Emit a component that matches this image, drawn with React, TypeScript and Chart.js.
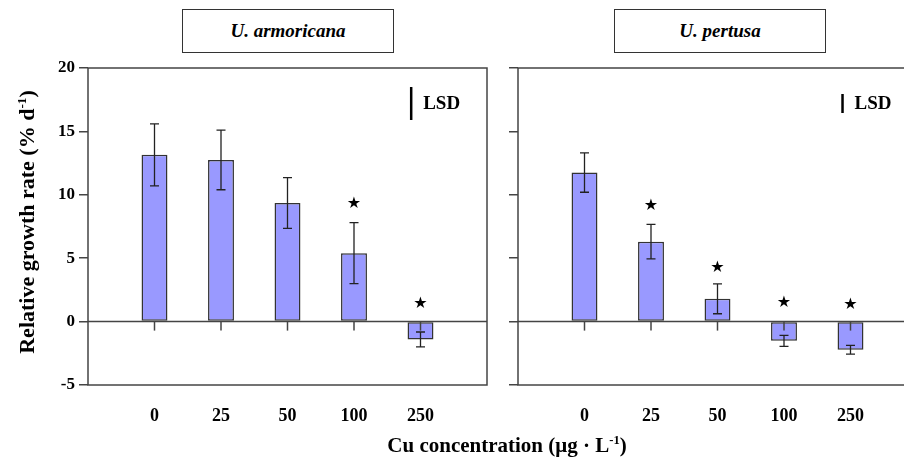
import React, { useEffect, useRef } from 'react';
import { Chart, registerables } from 'chart.js';

Chart.register(...registerables);

// ---- data ----
const categories = ['0', '25', '50', '100', '250'];
const armoricanaMeans = [13.15, 12.75, 9.35, 5.4, -1.41];
const armoricanaErrors = [2.45, 2.35, 2.0, 2.4, 0.59];
const armoricanaStars: (number | null)[] = [null, null, null, 9.3, 1.4];
const pertusaMeans = [11.75, 6.3, 1.8, -1.52, -2.22];
const pertusaErrors = [1.55, 1.36, 1.18, 0.44, 0.35];
const pertusaStars: (number | null)[] = [null, 9.1, 4.25, 1.5, 1.35];
const yMin = -5;
const yMax = 20;
const yStep = 5;
// LSD bar: [category position, centre value, length]
const armoricanaLSD = [4.86, 17.2, 2.6];
const pertusaLSD = [4.88, 17.2, 1.5];

const SERIF = '"Liberation Serif", "Times New Roman", serif';
const LINE = '#444';

function makeChart(
  canvas: HTMLCanvasElement,
  means: number[],
  errors: number[],
  stars: (number | null)[],
  lsd: number[],
  yWidth: number,
  rightPad: number,
  showYLabels: boolean
) {
  const labels = ['', ...categories, ''];
  const values = [null, ...means, null];

  const overlay = {
    id: 'overlay',
    afterDatasetsDraw(chart: any) {
      const { ctx, chartArea } = chart;
      const xs = chart.scales.x;
      const ys = chart.scales.y;
      ctx.save();
      // frame
      ctx.strokeStyle = LINE;
      ctx.lineWidth = 1.5;
      ctx.strokeRect(chartArea.left, chartArea.top, chartArea.right - chartArea.left, chartArea.bottom - chartArea.top);
      // zero line
      const y0 = ys.getPixelForValue(0);
      ctx.beginPath();
      ctx.moveTo(chartArea.left, y0);
      ctx.lineTo(chartArea.right, y0);
      ctx.stroke();
      // x tick marks at zero line
      for (let i = 0; i < categories.length; i++) {
        const x = xs.getPixelForValue(i + 1);
        ctx.beginPath();
        ctx.moveTo(x, y0);
        ctx.lineTo(x, y0 + 9);
        ctx.stroke();
      }
      // error bars
      ctx.strokeStyle = '#222';
      ctx.lineWidth = 1.3;
      for (let i = 0; i < means.length; i++) {
        const x = xs.getPixelForValue(i + 1);
        const yt = ys.getPixelForValue(means[i] + errors[i]);
        const yb = ys.getPixelForValue(means[i] - errors[i]);
        ctx.beginPath();
        ctx.moveTo(x, yt);
        ctx.lineTo(x, yb);
        ctx.moveTo(x - 4.5, yt);
        ctx.lineTo(x + 4.5, yt);
        ctx.moveTo(x - 4.5, yb);
        ctx.lineTo(x + 4.5, yb);
        ctx.stroke();
      }
      // stars
      ctx.fillStyle = '#000';
      ctx.font = '16px "DejaVu Sans", sans-serif';
      ctx.textAlign = 'center';
      ctx.textBaseline = 'middle';
      for (let i = 0; i < stars.length; i++) {
        const s = stars[i];
        if (s === null) continue;
        ctx.fillText('★', xs.getPixelForValue(i + 1), ys.getPixelForValue(s));
      }
      // LSD
      const lx = xs.getPixelForValue(lsd[0]);
      const lt = ys.getPixelForValue(lsd[1] + lsd[2] / 2);
      const lb = ys.getPixelForValue(lsd[1] - lsd[2] / 2);
      ctx.strokeStyle = '#000';
      ctx.lineWidth = 2.5;
      ctx.beginPath();
      ctx.moveTo(lx, lt);
      ctx.lineTo(lx, lb);
      ctx.stroke();
      ctx.font = `bold 19px ${SERIF}`;
      ctx.textAlign = 'left';
      ctx.textBaseline = 'middle';
      ctx.fillText('LSD', lx + 12, ys.getPixelForValue(lsd[1]) + 1);
      ctx.restore();
    },
  };

  return new Chart(canvas, {
    type: 'bar',
    data: {
      labels,
      datasets: [
        {
          data: values as any,
          backgroundColor: '#9999ff',
          borderColor: '#333',
          borderWidth: 1.5,
          borderSkipped: false,
          barPercentage: 0.39,
          categoryPercentage: 1,
        },
      ],
    },
    options: {
      animation: false,
      responsive: false,
      maintainAspectRatio: false,
      layout: { padding: { top: 68, right: rightPad, bottom: 38, left: 0 } },
      plugins: {
        legend: { display: false },
        tooltip: { enabled: false },
        title: { display: false },
      },
      scales: {
        x: {
          offset: false,
          grid: { display: false, drawTicks: false },
          border: { display: false },
          ticks: {
            padding: 21,
            autoSkip: false,
            maxRotation: 0,
            color: '#000',
            font: { family: SERIF, weight: 'bold', size: 18 },
          },
          afterFit: (s: any) => {
            s.height = 40;
            s.paddingLeft = 0;
            s.paddingRight = 0;
          },
        },
        y: {
          min: yMin,
          max: yMax,
          ticks: {
            stepSize: yStep,
            padding: 4,
            color: showYLabels ? '#000' : 'rgba(0,0,0,0)',
            font: { family: SERIF, weight: 'bold', size: 17 },
          },
          grid: { drawOnChartArea: false, drawTicks: true, tickLength: 9, color: LINE, lineWidth: 1.5 },
          border: { display: false },
          afterFit: (s: any) => {
            s.width = yWidth;
          },
        },
      },
    } as any,
    plugins: [overlay],
  });
}

export default function App() {
  const leftRef = useRef<HTMLCanvasElement>(null);
  const rightRef = useRef<HTMLCanvasElement>(null);

  useEffect(() => {
    const c1 = makeChart(leftRef.current!, armoricanaMeans, armoricanaErrors, armoricanaStars, armoricanaLSD, 88, 13, true);
    const c2 = makeChart(rightRef.current!, pertusaMeans, pertusaErrors, pertusaStars, pertusaLSD, 18, 3, false);
    return () => {
      c1.destroy();
      c2.destroy();
    };
  }, []);

  const boxStyle: React.CSSProperties = {
    position: 'absolute',
    top: 9,
    width: 212,
    height: 44,
    boxSizing: 'border-box',
    border: '1.5px solid #333',
    display: 'flex',
    alignItems: 'center',
    justifyContent: 'center',
    fontFamily: SERIF,
    fontStyle: 'italic',
    fontWeight: 'bold',
    fontSize: 19,
    background: '#fff',
  };

  return (
    <div
      style={{
        position: 'fixed',
        left: 0,
        top: 0,
        width: 904,
        height: 463,
        overflow: 'hidden',
        background: '#fff',
      }}
    >
      <canvas ref={leftRef} width={500} height={463} style={{ position: 'absolute', left: 0, top: 0, display: 'block' }} />
      <canvas ref={rightRef} width={420} height={463} style={{ position: 'absolute', left: 500, top: 0, display: 'block' }} />
      <div style={{ ...boxStyle, left: 182 }}>U. armoricana</div>
      <div style={{ ...boxStyle, left: 614 }}>U. pertusa</div>
      <div
        style={{
          position: 'absolute',
          left: 307,
          top: 433,
          width: 400,
          textAlign: 'center',
          fontFamily: SERIF,
          fontWeight: 'bold',
          fontSize: 21,
          lineHeight: '25px',
          whiteSpace: 'nowrap',
        }}
      >
        Cu concentration (μg · L<sup style={{ fontSize: '0.6em', lineHeight: 0 }}>-1</sup>)
      </div>
      <div
        style={{
          position: 'absolute',
          left: 27 - 160,
          top: 222 - 12,
          width: 320,
          height: 24,
          textAlign: 'center',
          transform: 'rotate(-90deg)',
          fontFamily: SERIF,
          fontWeight: 'bold',
          fontSize: 22,
          lineHeight: '24px',
          whiteSpace: 'nowrap',
        }}
      >
        Relative growth rate (% d<sup style={{ fontSize: '0.6em', lineHeight: 0 }}>-1</sup>)
      </div>
    </div>
  );
}
